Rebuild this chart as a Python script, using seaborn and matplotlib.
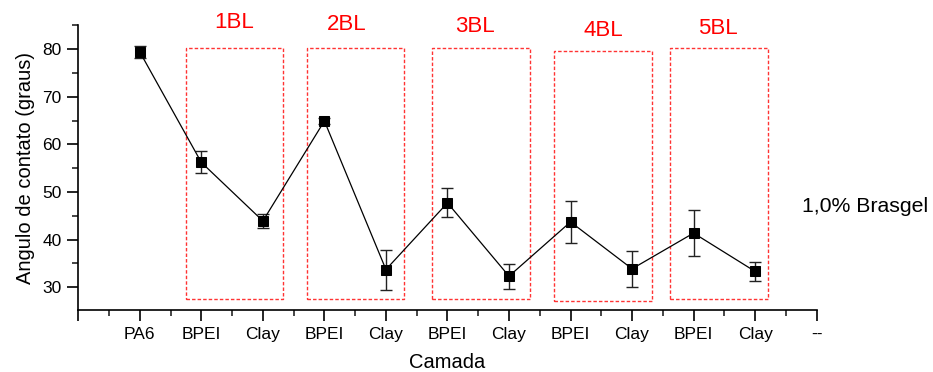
import matplotlib
matplotlib.use("Agg")
import matplotlib.pyplot as plt
import seaborn as sns
import numpy as np
import pandas as pd
from matplotlib.patches import Rectangle
from matplotlib.ticker import MultipleLocator

categories = ["PA6", "BPEI", "Clay", "BPEI", "Clay", "BPEI", "Clay", "BPEI", "Clay", "BPEI", "Clay"]
angle = [79.4, 56.2, 43.9, 64.9, 33.7, 47.7, 32.3, 43.7, 33.85, 41.35, 33.3]
angle_err = [1.3, 2.3, 1.5, 0.6, 4.2, 3.05, 2.6, 4.35, 3.75, 4.9, 2.0]
tick_labels = [""] + categories + ["--"]
bl_labels = ["1BL", "2BL", "3BL", "4BL", "5BL"]

sns.set_theme(style="ticks")
plt.rcParams["font.family"] = ["Liberation Sans", "DejaVu Sans"]
plt.rcParams["text.color"] = "black"
plt.rcParams["axes.labelcolor"] = "black"

fig = plt.figure(figsize=(9.33, 3.72), dpi=100)
ax = fig.add_axes([0.0839, 0.1667, 0.8753 - 0.0839, 0.932 - 0.1667])

x = np.arange(1, len(categories) + 1)
df = pd.DataFrame({"pos": x, "angle": angle, "err": angle_err})

ax.errorbar(df["pos"], df["angle"], yerr=df["err"], fmt="none", ecolor="#222222",
            elinewidth=1.0, capsize=4.5, capthick=1.0, zorder=2)
sns.lineplot(data=df, x="pos", y="angle", ax=ax, color="black", linewidth=0.9,
             marker="s", markersize=7, markeredgecolor="black", markerfacecolor="black",
             zorder=3)

# red dashed boxes around each bilayer (layout)
box_left = [1.745, 3.71, 5.75, 7.73, 9.62]
box_top = [80.15, 80.15, 80.15, 79.65, 80.15]
box_bot = [27.6, 27.6, 27.6, 27.05, 27.6]
for x0, top, bot in zip(box_left, box_top, box_bot):
    ax.add_patch(Rectangle((x0, bot), 1.59, top - bot, fill=False, edgecolor="#ff3333",
                           linestyle=(0, (2.5, 1.5)), linewidth=1.0, zorder=1))

label_pos = [(234, 22), (347, 25), (475, 26), (603, 30), (718, 28)]
for lab, (px, py) in zip(bl_labels, label_pos):
    fig.text(px / 933, 1 - py / 372, lab, color="#ff0000", fontsize=16,
             ha="center", va="center")

fig.text(865 / 933, 1 - 207 / 372, "1,0% Brasgel", fontsize=15.3, ha="center", va="center",
         color="black")

ax.set_xlim(0, 12)
ax.set_ylim(25.2, 85)
ax.set_xticks(np.arange(0, 13))
ax.set_xticklabels(tick_labels)
ax.xaxis.set_minor_locator(MultipleLocator(0.5))
ax.set_yticks([30, 40, 50, 60, 70, 80])
ax.yaxis.set_minor_locator(MultipleLocator(5))
ax.tick_params(axis="both", which="major", length=8, width=1.2, labelsize=12.5,
               colors="black", direction="out", pad=4)
ax.tick_params(axis="both", which="minor", length=4, width=1.2, direction="out")
sns.despine(ax=ax)
for s in ["left", "bottom"]:
    ax.spines[s].set_linewidth(1.2)
    ax.spines[s].set_color("black")

ax.set_xlabel("Camada", fontsize=14.5, labelpad=8)
ax.set_ylabel("Angulo de contato (graus)", fontsize=14.5, labelpad=5)

fig.savefig("out.png", dpi=100)
